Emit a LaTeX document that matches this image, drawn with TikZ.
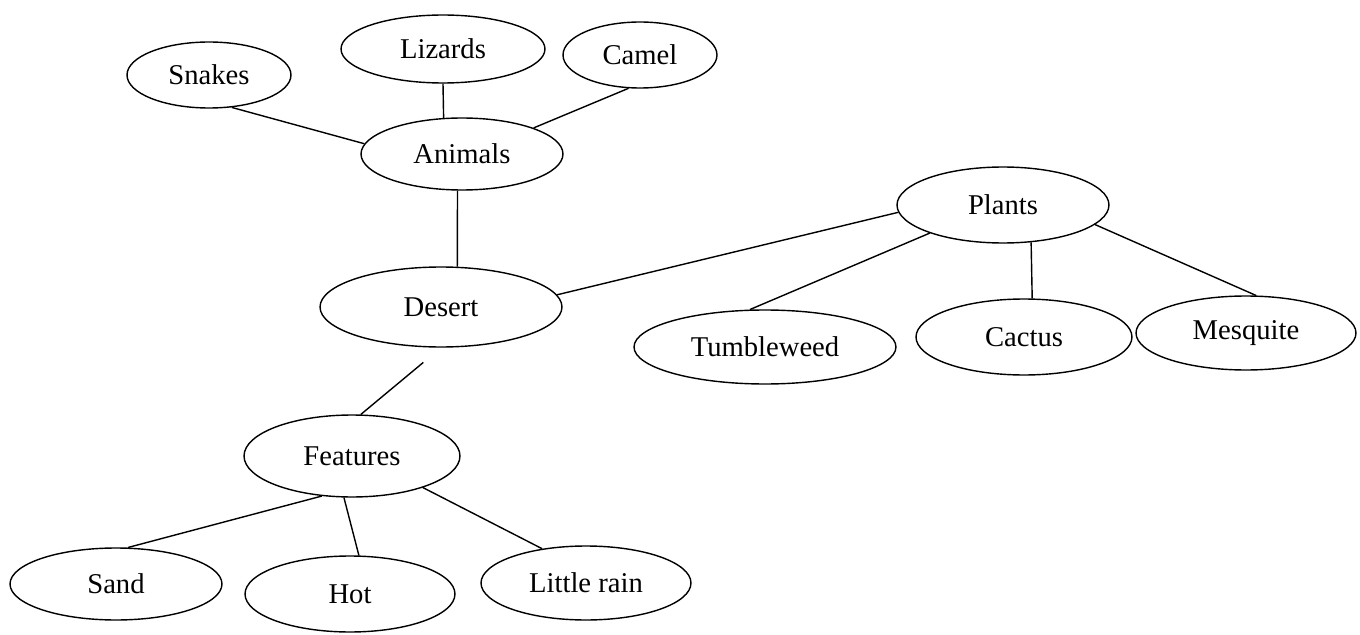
\documentclass[tikz,border=0pt]{standalone}
\usepackage{fontspec}
\setmainfont{Liberation Serif}
\usetikzlibrary{shapes.geometric}
\tikzset{
 bubble/.style 2 args={ellipse, draw, line width=0.8pt, inner sep=0pt,
   minimum width=#1cm, minimum height=#2cm, font=\fontsize{16.3}{19}\selectfont},
 link/.style={line width=0.8pt}
}
\begin{document}
\begin{tikzpicture}[x=0.02cm, y=-0.02cm]
\useasboundingbox (0,0) rectangle (1360,635);
\node[bubble={3.28}{1.32}] (snakes) at (209,75) {Snakes};
\node[bubble={4.08}{1.36}] (lizards) at (443,49) {Lizards};
\node[bubble={3.08}{1.32}] (camel) at (640,55) {Camel};
\node[bubble={4.04}{1.44}] (animals) at (462,154) {Animals};
\node[bubble={4.24}{1.52}] (plants) at (1003,205) {Plants};
\node[bubble={4.84}{1.6}] (desert) at (441,307) {Desert};
\node[bubble={5.24}{1.48}] (tumbleweed) at (765,347) {Tumbleweed};
\node[bubble={4.32}{1.52}] (cactus) at (1024,337) {Cactus};
\node[bubble={4.4}{1.48}] (mesquite) at (1246,333) {Mesquite};
\node[bubble={4.32}{1.64}] (features) at (352,456) {Features};
\node[bubble={4.24}{1.44}] (sand) at (116,584) {Sand};
\node[bubble={4.2}{1.52}] (hot) at (350,594) {Hot};
\node[bubble={4.2}{1.48}] (rain) at (586,583) {Little rain};

\draw[link] (snakes.305) -- (animals.174);
\draw[link] (lizards.south) -- (animals.117);
\draw[link] (camel.251) -- (animals.20);
\draw[link] (animals.263) -- (desert.68);
\draw[link] (plants.184) -- (desert.6);
\draw[link] (plants.201) -- (tumbleweed.112);
\draw[link] (plants.307) -- (cactus.78);
\draw[link] (plants.348) -- (mesquite.75);
\draw[link, shorten <=0.46cm] (desert.south) -- (features.78);
\draw[link] (features.233) -- (sand.72);
\draw[link] (features.259) -- (hot.77);
\draw[link] (features.336) -- (rain.142);
\end{tikzpicture}
\end{document}
